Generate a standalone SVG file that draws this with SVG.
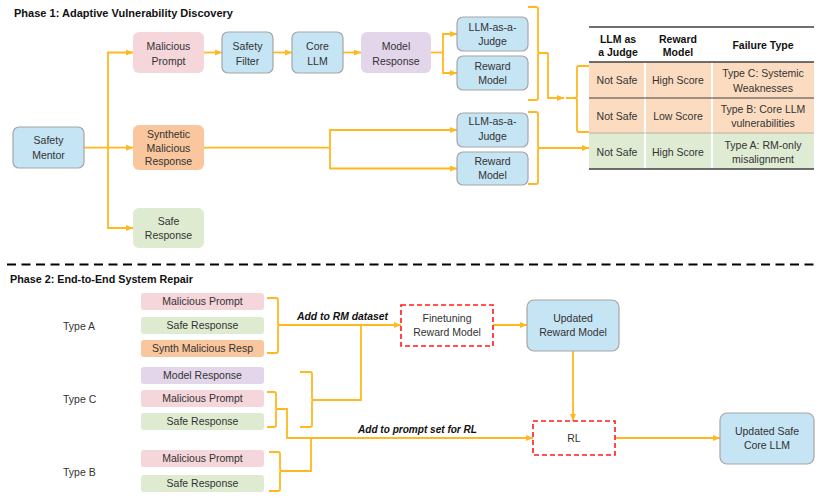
<svg xmlns="http://www.w3.org/2000/svg" width="821" height="498" viewBox="0 0 821 498">
<style>
text{font-family:"Liberation Sans",Arial,sans-serif;font-size:10.5px;fill:#333;text-anchor:middle}
.title{font-weight:bold;font-size:11px;fill:#111;text-anchor:start}
.lbl{font-weight:bold;font-style:italic;fill:#111;text-anchor:start}
.hd{font-weight:bold;fill:#111}
.tl{text-anchor:start}
.blue{fill:#C5E4F4;stroke:#A6A6A6;stroke-width:1.2}
.pink{fill:#F4D6DB}
.purple{fill:#E3D5EA}
.orange{fill:#F9C69D}
.green{fill:#DEEBD0}
.tor{fill:#FBDCC0}
.tgr{fill:#DFEBD3}
.dash{fill:#fff;stroke:#FF1A1A;stroke-width:1.6;stroke-dasharray:5,3}
.c{fill:none;stroke:#FFB81F;stroke-width:1.8}
.a{marker-end:url(#ah)}
.rule{stroke:#404040;fill:none}
</style>
<defs>
<marker id="ah" markerUnits="userSpaceOnUse" markerWidth="7" markerHeight="6" refX="7" refY="3" orient="auto">
<path d="M0,0 L7,3 L0,6 z" fill="#FFB81F"/>
</marker>
</defs>
<rect width="821" height="498" fill="#fff"/>

<text class="title" x="14" y="17" textLength="219" lengthAdjust="spacingAndGlyphs">Phase 1: Adaptive Vulnerability Discovery</text>
<text class="title" x="10" y="283" textLength="183" lengthAdjust="spacingAndGlyphs">Phase 2: End-to-End System Repair</text>
<line x1="7" y1="264.5" x2="814" y2="264.5" stroke="#000" stroke-width="1.8" stroke-dasharray="9,5.5"/>

<g id="connectors">
<path class="c a" d="M204,52.5 H222"/>
<path class="c a" d="M273,52.5 H292"/>
<path class="c a" d="M343,52.5 H361"/>
<path class="c" d="M431,52.5 H443"/>
<path class="c a" d="M443,52.5 V34 H457"/>
<path class="c a" d="M443,52.5 V73 H457"/>
<path class="c a" d="M84,147.7 H133"/>
<path class="c a" d="M108,147.7 V52.5 H133"/>
<path class="c a" d="M108,147.7 V228 H133"/>
<path class="c" d="M204,147.7 H330"/>
<path class="c a" d="M330,147.7 V130 H457"/>
<path class="c a" d="M330,147.7 V168.5 H457"/>
<path class="c" d="M528,7 H536 Q538,7 538,9 V51 Q538,53 540,53 H548 M540,53 Q538,53 538,55 V98 Q538,100 536,100 H528"/>
<path class="c a" d="M548,53 V98 H564"/>
<path class="c" d="M589,66 H579 Q577,66 577,68 V96 Q577,98 575,98 H566 M575,98 Q577,98 577,100 V130 Q577,132 579,132 H589"/>
<path class="c" d="M528,112 H536 Q538,112 538,114 V146 Q538,148 540,148 H548 M540,148 Q538,148 538,150 V182 Q538,184 536,184 H528"/>
<path class="c a" d="M548,148 H589"/>

<path class="c" d="M267,298 H276 Q278,298 278,300 V323 Q278,325 280,325 M280,325 Q278,325 278,327 V351 Q278,353 276,353 H267"/>
<path class="c a" d="M280,325 H401"/>
<path class="c" d="M300,372 H310 Q312,372 312,374 V398 Q312,400 314,400 M314,400 Q312,400 312,402 V425 Q312,427 310,427 H300"/>
<path class="c" d="M314,400 H361 V325"/>
<path class="c" d="M267,392 H274 Q276,392 276,394 V407 Q276,409 278,409 M278,409 Q276,409 276,411 V425 Q276,427 274,427 H267"/>
<path class="c a" d="M278,409 H287 V438 H533"/>
<path class="c" d="M269,452 H278 Q280,452 280,454 V469 Q280,471 282,471 M282,471 Q280,471 280,473 V489 Q280,491 278,491 H269"/>
<path class="c" d="M282,471 H311 V438"/>
<path class="c a" d="M493,325 H527"/>
<path class="c a" d="M573,351 V421"/>
<path class="c a" d="M615,438 H720"/>
</g>

<g id="safety-mentor"><rect class="blue" x="13" y="127" width="71" height="41" rx="6"/><text x="48.5" y="144.4">Safety</text><text x="48.5" y="158.7">Mentor</text></g>
<g id="malicious-prompt"><rect class="pink" x="133" y="32" width="71" height="41" rx="6"/><text x="168.5" y="50.4">Malicious</text><text x="168.5" y="64.7">Prompt</text></g>
<g id="safety-filter"><rect class="blue" x="222" y="32" width="51" height="41" rx="6"/><text x="247.5" y="50.4">Safety</text><text x="247.5" y="64.7">Filter</text></g>
<g id="core-llm"><rect class="blue" x="292" y="32" width="51" height="41" rx="6"/><text x="317.5" y="50.4">Core</text><text x="317.5" y="64.7">LLM</text></g>
<g id="model-response"><rect class="purple" x="361" y="32" width="70" height="41" rx="6"/><text x="396" y="50.4">Model</text><text x="396" y="64.7">Response</text></g>
<g id="judge-1"><rect class="blue" x="457" y="17" width="71" height="34" rx="6"/><text x="492.5" y="30.7">LLM-as-a-</text><text x="492.5" y="45.4">Judge</text></g>
<g id="reward-1"><rect class="blue" x="457" y="56" width="71" height="34" rx="6"/><text x="492.5" y="70">Reward</text><text x="492.5" y="84">Model</text></g>
<g id="synthetic"><rect class="orange" x="133" y="125" width="71" height="45" rx="6"/><text x="168.5" y="138">Synthetic</text><text x="168.5" y="152">Malicious</text><text x="168.5" y="165.4">Response</text></g>
<g id="safe-response"><rect class="green" x="133" y="208" width="71" height="40" rx="6"/><text x="168.5" y="225.4">Safe</text><text x="168.5" y="239.4">Response</text></g>
<g id="judge-2"><rect class="blue" x="457" y="113" width="71" height="34" rx="6"/><text x="492.5" y="125.4">LLM-as-a-</text><text x="492.5" y="139.7">Judge</text></g>
<g id="reward-2"><rect class="blue" x="457" y="152" width="71" height="33" rx="6"/><text x="492.5" y="165.4">Reward</text><text x="492.5" y="178.7">Model</text></g>

<g id="table">
<rect class="tor" x="589" y="62" width="55" height="71"/>
<rect class="tor" x="646" y="62" width="65" height="71"/>
<rect class="tor" x="713" y="62" width="101" height="71"/>
<rect class="tgr" x="589" y="133" width="55" height="36"/>
<rect class="tgr" x="646" y="133" width="65" height="36"/>
<rect class="tgr" x="713" y="133" width="101" height="36"/>
<line class="rule" x1="589" y1="27" x2="814" y2="27" stroke-width="1.5"/>
<line class="rule" x1="589" y1="62" x2="814" y2="62" stroke-width="1.5"/>
<line class="rule" x1="589" y1="98" x2="814" y2="98" stroke-width="1"/>
<line class="rule" x1="589" y1="133" x2="814" y2="133" stroke-width="0.6" stroke-opacity="0.5"/>
<line class="rule" x1="589" y1="169" x2="814" y2="169" stroke-width="1.5"/>
<text class="hd" x="618" y="42.7">LLM as</text><text class="hd" x="618" y="56">a Judge</text>
<text class="hd" x="678" y="42.7">Reward</text><text class="hd" x="678" y="56">Model</text>
<text class="hd" x="763" y="48.7">Failure Type</text>
<text x="617" y="83.7">Not Safe</text><text x="678" y="83.7">High Score</text>
<text x="763" y="76.7">Type C: Systemic</text><text x="763" y="91.7">Weaknesses</text>
<text x="617" y="119.7">Not Safe</text><text x="678" y="119.7">Low Score</text>
<text x="763" y="113">Type B: Core LLM</text><text x="763" y="127">vulnerabilities</text>
<text x="617" y="155.7">Not Safe</text><text x="678" y="155.7">High Score</text>
<text x="763" y="149.4">Type A: RM-only</text><text x="763" y="163">misalignment</text>
</g>

<g id="type-labels">
<text class="tl" x="63" y="329.7">Type A</text>
<text class="tl" x="63" y="402.7">Type C</text>
<text class="tl" x="63" y="475.7">Type B</text>
</g>
<g id="a-malicious-prompt"><rect class="pink" x="141" y="293" width="123" height="17" rx="3"/><text x="202.5" y="305.2">Malicious Prompt</text></g>
<g id="a-safe-response"><rect class="green" x="141" y="317" width="123" height="17" rx="3"/><text x="202.5" y="329.2">Safe Response</text></g>
<g id="a-synth"><rect class="orange" x="141" y="340" width="123" height="17" rx="3"/><text x="202.5" y="352.2">Synth Malicious Resp</text></g>
<g id="c-model-response"><rect class="purple" x="141" y="367" width="123" height="17" rx="3"/><text x="202.5" y="379.2">Model Response</text></g>
<g id="c-malicious-prompt"><rect class="pink" x="141" y="390" width="123" height="17" rx="3"/><text x="202.5" y="402.2">Malicious Prompt</text></g>
<g id="c-safe-response"><rect class="green" x="141" y="413" width="123" height="17" rx="3"/><text x="202.5" y="425.2">Safe Response</text></g>
<g id="b-malicious-prompt"><rect class="pink" x="141" y="450" width="123" height="17" rx="3"/><text x="202.5" y="462.2">Malicious Prompt</text></g>
<g id="b-safe-response"><rect class="green" x="141" y="475" width="123" height="17" rx="3"/><text x="202.5" y="487.2">Safe Response</text></g>

<g id="edge-labels">
<text class="lbl" x="297" y="320" textLength="91" lengthAdjust="spacingAndGlyphs">Add to RM dataset</text>
<text class="lbl" x="358" y="433" textLength="119" lengthAdjust="spacingAndGlyphs">Add to prompt set for RL</text>
</g>
<g id="finetuning"><rect class="dash" x="401" y="305" width="92" height="41"/><text x="447" y="321.7">Finetuning</text><text x="447" y="335.7">Reward Model</text></g>
<g id="updated-rm"><rect class="blue" x="527" y="300" width="92" height="51" rx="7"/><text x="573" y="322">Updated</text><text x="573" y="336">Reward Model</text></g>
<g id="rl"><rect class="dash" x="533" y="421" width="82" height="34"/><text x="574" y="441.7">RL</text></g>
<g id="updated-core"><rect class="blue" x="720" y="413" width="94" height="51" rx="7"/><text x="767" y="435.4">Updated Safe</text><text x="767" y="449.4">Core LLM</text></g>
</svg>
